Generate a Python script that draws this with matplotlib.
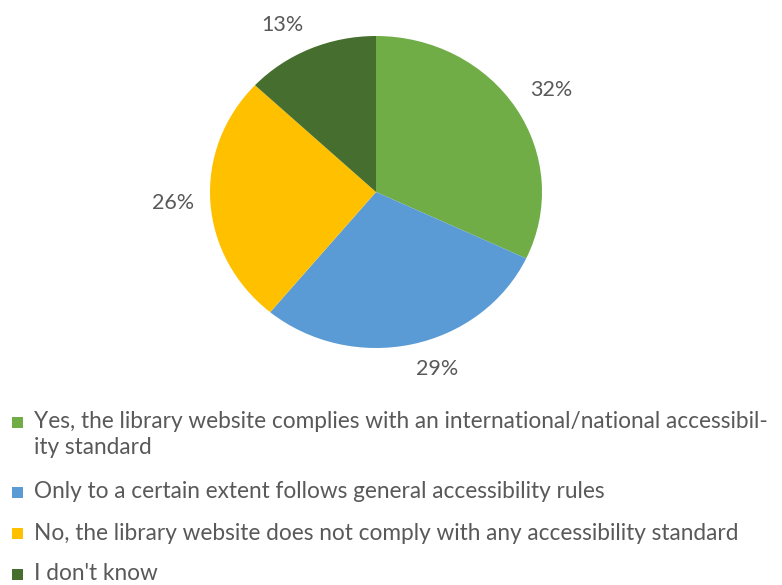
import matplotlib.pyplot as plt
from matplotlib.patches import Rectangle

plt.rcParams['font.family'] = ['Lato', 'DejaVu Sans']

# survey answers: does the library website follow accessibility standards?
categories = [
    "Yes, the library website complies with an international/national accessibil-\nity standard",
    "Only to a certain extent follows general accessibility rules",
    "No, the library website does not comply with any accessibility standard",
    "I don't know",
]
shares = [32, 29, 26, 13]
colors = ["#70AD47", "#5B9BD5", "#FFC000", "#466E2E"]
text_color = "#595959"

W, H = 782, 585
fig = plt.figure(figsize=(W / 100, H / 100), dpi=100)

# pie area in pixels: left, top, right, bottom
px0, py0, px1, py1 = 210, 36, 542, 348
ax = fig.add_axes([px0 / W, 1 - py1 / H, (px1 - px0) / W, (py1 - py0) / H])
wedges, texts = ax.pie(
    shares, colors=colors, startangle=90, counterclock=False,
    labels=[f"{v}%" for v in shares], labeldistance=1.1,
    wedgeprops=dict(linewidth=0),
    textprops=dict(color=text_color, fontsize=15.5),
)
for t in texts:
    x, y = t.get_position()
    t.set_ha("left" if x > 0 else "right")
    if abs(y) < 0.3:
        t.set_va("center")
    else:
        t.set_va("bottom" if y > 0 else "top")
ax.set_aspect("auto")
ax.set_xlim(-1, 1)
ax.set_ylim(-1, 1)

# legend drawn in pixel coordinates below the pie
lg = fig.add_axes([0, 0, 1, 1])
lg.set_xlim(0, W)
lg.set_ylim(H, 0)
lg.axis("off")
y = 422
for label, c in zip(categories, colors):
    lg.add_patch(Rectangle((12, y - 5), 11, 11, color=c, linewidth=0))
    lines = label.split("\n")
    for i, line in enumerate(lines):
        lg.text(34, y + i * 26, line, color=text_color, fontsize=16.3,
                va="center", ha="left")
    y += 41 + 29 * (len(lines) - 1)

fig.savefig("out.png", dpi=100)
